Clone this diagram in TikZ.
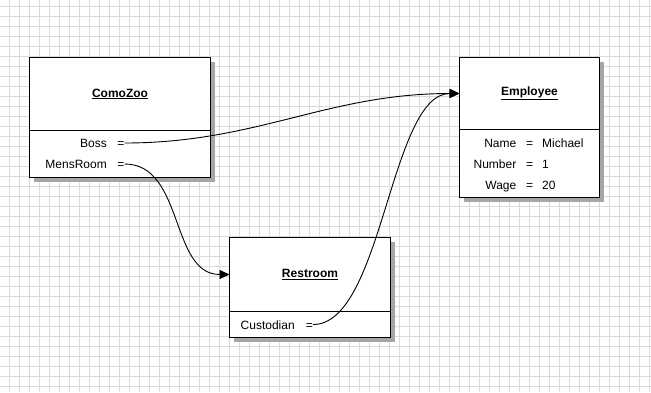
\documentclass[tikz,border=0pt]{standalone}
\usepackage{fontspec}
\setmainfont{Liberation Sans}
\usetikzlibrary{arrows.meta,shadows}

\newcommand{\classname}[1]{\underline{\textbf{#1}}}

\begin{document}
\begin{tikzpicture}[x=1pt, y=-1pt, every node/.style={font=\fontsize{12}{14}\selectfont}, >={Triangle[length=10pt,width=9pt]},
	gridline/.style={black!14, line width=1pt},
	classbox/.style={draw, fill=white, line width=1pt, inner sep=0pt, outer sep=0pt, drop shadow={shadow xshift=4pt, shadow yshift=-4pt, fill=black!35, opacity=1}},
	attr/.style={inner sep=0pt, text height=9pt, text depth=0pt},
	link/.style={->, line width=0.9pt}]
	\useasboundingbox (0,0) rectangle (651,392);
	\fill[white] (0,0) rectangle (651,392);
	\foreach \gx in {9.5,19.5,...,649.5} {\draw[gridline] (\gx,0) -- (\gx,392);}
	\foreach \gy in {6.5,16.5,...,386.5} {\draw[gridline] (0,\gy) -- (651,\gy);}
	% classes
	\node[classbox, minimum width=181pt, minimum height=73pt, anchor=north west] (zoo) at (29.5,57.5) {\classname{ComoZoo}};
	\node[classbox, minimum width=181pt, minimum height=47pt, anchor=north] (zoo-body) at (zoo.south) {};
	\node[classbox, minimum width=140pt, minimum height=72pt, anchor=north west] (emp) at (459.5,57.5) {\classname{Employee}};
	\node[classbox, minimum width=140pt, minimum height=68pt, anchor=north] (emp-body) at (emp.south) {};
	\node[classbox, minimum width=161pt, minimum height=74pt, anchor=north west] (rest) at (229.5,237.5) {\classname{Restroom}};
	\node[classbox, minimum width=161pt, minimum height=26pt, anchor=north] (rest-body) at (rest.south) {};
	% fields
	\node[attr, anchor=east] (boss) at (107,143) {Boss};
	\node[attr] (boss-eq) at (121,143) {=};
	\node[attr, anchor=east] (mens) at (107,164) {MensRoom};
	\node[attr] (mens-eq) at (121,164) {=};
	\node[attr, anchor=east] (name) at (516.5,142.5) {Name};
	\node[attr] (name-eq) at (529.5,142.5) {=};
	\node[attr, anchor=west] (name-val) at (542,142.5) {Michael};
	\node[attr, anchor=east] (number) at (516.5,163.5) {Number};
	\node[attr] (number-eq) at (529.5,163.5) {=};
	\node[attr, anchor=west] (number-val) at (542,163.5) {1};
	\node[attr, anchor=east] (wage) at (516.5,184.5) {Wage};
	\node[attr] (wage-eq) at (529.5,184.5) {=};
	\node[attr, anchor=west] (wage-val) at (542,184.5) {20};
	\node[attr, anchor=west] (cust) at (240.5,324.5) {Custodian};
	\node[attr] (cust-eq) at (309.5,324.5) {=};
	% references
	\draw[link] (boss-eq.east) to[out=0, in=180] (emp.west);
	\draw[link] (mens-eq.east) to[out=0, in=180] (rest.west);
	\draw[link] (cust-eq.east) to[out=0, in=180, looseness=0.65] (emp.west);
\end{tikzpicture}
\end{document}
